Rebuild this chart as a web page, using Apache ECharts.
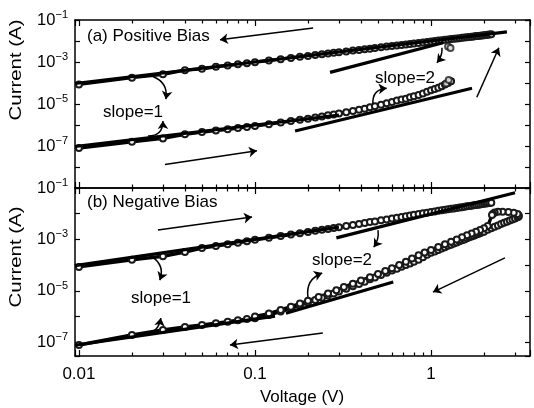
<!DOCTYPE html>
<html><head><meta charset="utf-8">
<script src="https://cdn.jsdelivr.net/npm/echarts@6/dist/echarts.min.js"></script>
<style>html,body{margin:0;padding:0;background:#fff}#c{width:534px;height:408px}</style>
</head><body><div id="c"></div>
<script>
// ---------------- data ----------------
const xTickLabels = {'-2': '0.01', '-1': '0.1', '0': '1'};
const xMinorTicks = [0.02,0.03,0.04,0.05,0.06,0.07,0.08,0.09,0.2,0.3,0.4,0.5,0.6,0.7,0.8,0.9,2,3];
const yLabelExponents = [-1,-3,-5,-7];

// Panel (a) Positive bias
const aLrsV = [0.01,0.02,0.03,0.04,0.05,0.06,0.07,0.08,0.09,0.1,0.12,0.14,0.16,0.18,0.2,0.22,0.24,0.26,0.28,0.3,0.33,0.36,0.39,0.42,0.45,0.48,0.52,0.56,0.6,0.64,0.68,0.72,0.76,0.8,0.85,0.9,0.95,1.0,1.05,1.1,1.15,1.2,1.25,1.3,1.35,1.4,1.45,1.5,1.55,1.6,1.65,1.7,1.75,1.8,1.85,1.9,1.95,2.0,2.05,2.1,2.15,2.2];
const aLrsI = [8.6e-5,1.8e-4,2.6e-4,4.1e-4,4.8e-4,5.9e-4,6.9e-4,7.8e-4,8.8e-4,9.8e-4,1.18e-3,1.37e-3,1.57e-3,1.76e-3,1.95e-3,2.15e-3,2.33e-3,2.52e-3,2.72e-3,2.9e-3,3.2e-3,3.5e-3,3.75e-3,4.05e-3,4.3e-3,4.6e-3,5.0e-3,5.4e-3,5.75e-3,6.1e-3,6.5e-3,6.9e-3,7.25e-3,7.6e-3,8.1e-3,8.6e-3,9.0e-3,9.5e-3,1.0e-2,1.05e-2,1.09e-2,1.14e-2,1.19e-2,1.23e-2,1.28e-2,1.33e-2,1.37e-2,1.42e-2,1.47e-2,1.52e-2,1.56e-2,1.61e-2,1.66e-2,1.71e-2,1.75e-2,1.8e-2,1.85e-2,1.9e-2,1.95e-2,2.0e-2,2.05e-2,2.1e-2];
const aHrsV = [0.01,0.02,0.03,0.04,0.05,0.06,0.07,0.08,0.09,0.1,0.12,0.14,0.16,0.18,0.2,0.22,0.24,0.26,0.28,0.3,0.33,0.36,0.39,0.42,0.45,0.48,0.52,0.56,0.6,0.64,0.68,0.72,0.76,0.8,0.85,0.9,0.95,1.0,1.05,1.1,1.15,1.2,1.25,1.3];
const aHrsI = [8e-8,1.6e-7,2.3e-7,3.6e-7,4.6e-7,5.4e-7,6.3e-7,7.2e-7,8.1e-7,9.0e-7,1.1e-6,1.3e-6,1.55e-6,1.8e-6,2.0e-6,2.3e-6,2.55e-6,2.9e-6,3.2e-6,3.55e-6,4.1e-6,4.7e-6,5.3e-6,6.0e-6,7.0e-6,7.9e-6,9.3e-6,1.1e-5,1.25e-5,1.45e-5,1.65e-5,1.8e-5,2.1e-5,2.35e-5,2.7e-5,3.2e-5,3.8e-5,4.5e-5,5.2e-5,6.0e-5,7.0e-5,8.5e-5,1.0e-4,1.2e-4];
const aStrayV = [1.25,1.29,1.22,1.26];
const aStrayI = [5.4e-3,4.7e-3,9.5e-5,1.4e-4];
// fitted lines (a)
const aFitLrs1V = [0.0095,2.7],  aFitLrs1I = [9.5e-5,2.7e-2];
const aFitHrs1V = [0.0095,0.3],  aFitHrs1I = [9.5e-8,3.0e-6];
const aFitLrs2V = [0.267,1.17],  aFitLrs2I = [3.2e-4,8.3e-3];
const aFitHrs2V = [0.169,1.71],  aFitHrs2I = [5.2e-7,5.6e-5];

// Panel (b) Negative bias
const bLrsV = [0.01,0.02,0.03,0.04,0.05,0.06,0.07,0.08,0.09,0.1,0.12,0.14,0.16,0.18,0.2,0.22,0.24,0.26,0.28,0.3,0.33,0.36,0.39,0.42,0.45,0.48,0.52,0.56,0.6,0.64,0.68,0.72,0.76,0.8,0.85,0.9,0.95,1.0,1.05,1.1,1.15,1.2,1.25,1.3,1.35,1.4,1.45,1.5,1.55,1.6,1.65,1.7,1.75,1.8,1.85,1.9,1.95,2.0,2.05,2.1,2.15,2.2];
const bLrsI = [8.5e-5,1.6e-4,2.2e-4,3.2e-4,4.6e-4,5.5e-4,6.5e-4,7.4e-4,8.5e-4,9.6e-4,1.15e-3,1.35e-3,1.55e-3,1.75e-3,1.95e-3,2.15e-3,2.35e-3,2.55e-3,2.8e-3,3.0e-3,3.3e-3,3.6e-3,3.95e-3,4.3e-3,4.7e-3,5.0e-3,5.5e-3,5.95e-3,6.5e-3,7.0e-3,7.5e-3,8.0e-3,8.5e-3,9.0e-3,9.7e-3,1.03e-2,1.1e-2,1.16e-2,1.22e-2,1.29e-2,1.35e-2,1.42e-2,1.48e-2,1.55e-2,1.61e-2,1.68e-2,1.74e-2,1.8e-2,1.86e-2,1.93e-2,1.99e-2,2.05e-2,2.11e-2,2.18e-2,2.24e-2,2.3e-2,2.36e-2,2.42e-2,2.47e-2,2.53e-2,2.59e-2,2.65e-2];
const bHrsV = [0.01,0.02,0.03,0.04,0.05,0.06,0.07,0.08,0.09,0.1,0.12,0.14,0.16,0.18,0.2,0.22,0.24,0.26,0.28,0.3,0.33,0.36,0.39,0.42,0.45,0.48,0.52,0.56,0.6,0.64,0.68,0.72,0.76,0.8,0.85,0.9,0.95,1.0,1.05,1.1,1.15,1.2,1.25,1.3,1.35,1.4,1.45,1.5,1.55,1.6,1.65,1.7,1.75,1.8,1.85,1.9,1.95,2.0,2.1,2.2,2.3,2.4,2.5,2.6,2.7,2.8,2.9,3.0,3.1,3.15];
const bHrsI = [7.8e-8,1.9e-7,3.0e-7,3.9e-7,4.7e-7,5.5e-7,6.3e-7,7.1e-7,7.9e-7,8.6e-7,1.15e-6,1.55e-6,2.05e-6,2.7e-6,3.5e-6,4.4e-6,5.4e-6,6.6e-6,7.9e-6,9.3e-6,1.2e-5,1.5e-5,1.85e-5,2.25e-5,2.8e-5,3.3e-5,4.1e-5,5.0e-5,6.1e-5,7.2e-5,8.6e-5,1.0e-4,1.15e-4,1.35e-4,1.6e-4,2.0e-4,2.5e-4,3.0e-4,3.4e-4,3.9e-4,4.4e-4,5.0e-4,5.6e-4,6.2e-4,6.9e-4,7.6e-4,8.4e-4,9.2e-4,1.0e-3,1.1e-3,1.2e-3,1.3e-3,1.4e-3,1.5e-3,1.62e-3,1.75e-3,1.88e-3,2.0e-3,2.35e-3,2.7e-3,3.1e-3,3.5e-3,3.95e-3,4.4e-3,4.9e-3,5.4e-3,5.9e-3,6.5e-3,7.2e-3,7.8e-3];
const bRetV = [3.15,3.1,2.95,2.75,2.55,2.4,2.3,2.25,2.22,2.1,2.0,1.9,1.8,1.7,1.6,1.5,1.4,1.3,1.2,1.1,1.0,0.92,0.85,0.78,0.72,0.66,0.6,0.55,0.5,0.45,0.4,0.36,0.32,0.29,0.26,0.23,0.2,0.18,0.16,0.14,0.12,0.1];
const bRetI = [8.5e-3,9.8e-3,1.1e-2,1.17e-2,1.2e-2,1.18e-2,1.12e-2,1.0e-2,8.8e-3,3.3e-3,2.7e-3,2.3e-3,2.0e-3,1.7e-3,1.45e-3,1.2e-3,1.0e-3,8.1e-4,6.5e-4,5.1e-4,3.9e-4,3.1e-4,2.4e-4,1.8e-4,1.35e-4,1.0e-4,7.6e-5,5.9e-5,4.5e-5,3.4e-5,2.5e-5,1.9e-5,1.4e-5,1.05e-5,7.8e-6,5.7e-6,4.1e-6,3.2e-6,2.4e-6,1.8e-6,1.3e-6,1.0e-6];
// fitted lines (b)
const bFitLrs1V = [0.0095,0.3],  bFitLrs1I = [9.5e-5,3.0e-3];
const bFitHrs1V = [0.0095,0.13], bFitHrs1I = [7.6e-8,1.04e-6];
const bFitLrs2V = [0.29,3.0],    bFitLrs2I = [1.15e-3,6.5e-2];
const bFitHrs2V = [0.15,0.61],   bFitHrs2I = [1.34e-6,2.2e-5];

// arrows [x1,y1,x2,y2,curveness] in data units (head at the second point)
const aArrows = [[0.214,4.2e-2,0.0632,1.14e-2,0],[0.0308,1.3e-8,0.1026,5.9e-8,0],[1.82,2.1e-5,2.43,4.8e-3,0],
  [0.0263,2.05e-4,0.0312,1.7e-5,0.4],[0.0247,3e-7,0.030,1.55e-6,-0.5],[1.155,4.8e-3,1.08,9.3e-4,0.2],[0.468,9.8e-6,0.56,5.6e-5,0.5]];
const bArrows = [[0.0281,2.3e-3,0.0962,7.4e-3,0],[2.63,1.9e-4,1.026,8.9e-6,0],[0.243,2.3e-7,0.0721,7.8e-8,0],
  [0.026,2.1e-4,0.0288,2.6e-5,0.4],[0.0222,2.3e-7,0.0292,8.7e-7,-0.5],[0.5,2.3e-3,0.473,5e-4,0.2],[0.2,5.7e-6,0.241,4.9e-5,0.4]];

// ---------------- chart ----------------
const FONT = 'Liberation Sans, Arial, Helvetica, sans-serif';
const XMIN = 0.0095, XMAX = 3.65;
const zip = (v, i) => v.map((x, k) => [x, i[k]]);

function xLog(gridIndex, pos, labels) {
  return {
    type: 'log', gridIndex, position: pos, min: XMIN, max: XMAX, logBase: 10,
    axisLine: {show: true, onZero: false, lineStyle: {color: '#000', width: 1.5}},
    axisTick: {show: true, inside: true, length: 6, lineStyle: {color: '#000', width: 1.2}},
    splitLine: {show: false}, minorTick: {show: false},
    axisLabel: {show: labels, margin: 10, color: '#000', fontSize: 17, fontFamily: FONT,
      formatter: v => { const e = Math.log10(v); const r = Math.round(e);
        return Math.abs(e - r) < 1e-6 && xTickLabels[String(r)] ? xTickLabels[String(r)] : ''; }}
  };
}
function xMinor(gridIndex, pos) {
  return {
    type: 'value', gridIndex, position: pos, min: Math.log10(XMIN), max: Math.log10(XMAX),
    axisLine: {show: false, onZero: false}, splitLine: {show: false}, axisLabel: {show: false},
    axisTick: {show: true, inside: true, length: 3.5, customValues: xMinorTicks.map(Math.log10),
      lineStyle: {color: '#000', width: 1.2}}
  };
}
function yLog(gridIndex, pos, min, labels) {
  return {
    type: 'log', gridIndex, position: pos, min: min, max: 1e-1, logBase: 10,
    axisLine: {show: true, onZero: false, lineStyle: {color: '#000', width: 1.5}},
    axisTick: {show: true, inside: true, length: 5, lineStyle: {color: '#000', width: 1.2}},
    splitLine: {show: false},
    axisLabel: {show: labels, margin: 7, color: '#000', fontFamily: FONT,
      formatter: v => { const e = Math.log10(v); const r = Math.round(e);
        if (Math.abs(e - r) > 1e-6 || yLabelExponents.indexOf(r) < 0) return '';
        return '{b|10}{s|' + String(r).replace('-', '\u2212') + '}'; },
      rich: {b: {fontSize: 16.5, fontFamily: FONT, color: '#000', lineHeight: 18},
             s: {fontSize: 11, fontFamily: FONT, color: '#000', lineHeight: 12, padding: [0, 0, 10, 0]}}}
  };
}

function dataSeries(name, xi, yi, v, i) {
  return {name, type: 'line', xAxisIndex: xi, yAxisIndex: yi, data: zip(v, i),
    symbol: 'emptyCircle', symbolSize: 6, showSymbol: true,
    itemStyle: {color: '#1a1a1a', borderWidth: 1.1},
    lineStyle: {color: '#000', width: 3.4}, z: 3, silent: true};
}
function fitSeries(name, xi, yi, v, i) {
  return {name, type: 'line', xAxisIndex: xi, yAxisIndex: yi, data: zip(v, i),
    symbol: 'none', lineStyle: {color: '#000', width: 3.2}, z: 4, silent: true};
}
function arrowSeries(name, xi, yi, arrows) {
  return {name, type: 'lines', coordinateSystem: 'cartesian2d', xAxisIndex: xi, yAxisIndex: yi,
    symbol: ['none', 'arrow'], symbolSize: 8, silent: true, z: 5,
    lineStyle: {color: '#000', width: 1.5, opacity: 1},
    data: arrows.map(a => ({coords: [[a[0], a[1]], [a[2], a[3]]], lineStyle: {curveness: a[4]}}))};
}
function txt(x, y, s, align, extra) {
  return Object.assign({type: 'text', x, y, silent: true,
    style: {text: s, fontSize: 17, fontFamily: FONT, fill: '#000', align: align, verticalAlign: 'middle'}}, extra || {});
}

const chart = echarts.init(document.getElementById('c'), null, {renderer: 'canvas'});
chart.setOption({
  animation: false,
  backgroundColor: '#fff',
  grid: [
    {left: 75, top: 20, width: 455, height: 168, containLabel: false},
    {left: 75, top: 188, width: 455, height: 168, containLabel: false}
  ],
  xAxis: [
    xLog(0, 'bottom', false), xLog(0, 'top', false), xMinor(0, 'bottom'), xMinor(0, 'top'),
    xLog(1, 'bottom', true), xLog(1, 'top', false), xMinor(1, 'bottom'), xMinor(1, 'top')
  ],
  yAxis: [
    yLog(0, 'left', 1e-9, true), yLog(0, 'right', 1e-9, false),
    yLog(1, 'left', 2.9e-8, true), yLog(1, 'right', 2.9e-8, false)
  ],
  series: [
    dataSeries('aLRS', 0, 0, aLrsV, aLrsI),
    dataSeries('aHRS', 0, 0, aHrsV, aHrsI),
    Object.assign(dataSeries('aStray', 0, 0, aStrayV, aStrayI), {type: 'scatter'}),
    fitSeries('aFitLrs1', 0, 0, aFitLrs1V, aFitLrs1I),
    fitSeries('aFitHrs1', 0, 0, aFitHrs1V, aFitHrs1I),
    fitSeries('aFitLrs2', 0, 0, aFitLrs2V, aFitLrs2I),
    fitSeries('aFitHrs2', 0, 0, aFitHrs2V, aFitHrs2I),
    arrowSeries('aArrows', 0, 0, aArrows),
    dataSeries('bLRS', 4, 2, bLrsV, bLrsI),
    dataSeries('bHRS', 4, 2, bHrsV, bHrsI),
    dataSeries('bRet', 4, 2, bRetV, bRetI),
    fitSeries('bFitLrs1', 4, 2, bFitLrs1V, bFitLrs1I),
    fitSeries('bFitHrs1', 4, 2, bFitHrs1V, bFitHrs1I),
    fitSeries('bFitLrs2', 4, 2, bFitLrs2V, bFitLrs2I),
    fitSeries('bFitHrs2', 4, 2, bFitHrs2V, bFitHrs2I),
    arrowSeries('bArrows', 4, 2, bArrows)
  ],
  graphic: [
    txt(87, 36, '(a) Positive Bias', 'left'),
    txt(133, 112, 'slope=1', 'center'),
    txt(405, 78, 'slope=2', 'center'),
    txt(87, 202, '(b) Negative Bias', 'left'),
    txt(161, 298, 'slope=1', 'center'),
    txt(342, 260, 'slope=2', 'center'),
    txt(16, 70, 'Current (A)', 'center', {rotation: Math.PI / 2, scaleX: 1.2}),
    txt(16, 257, 'Current (A)', 'center', {rotation: Math.PI / 2, scaleX: 1.2}),
    txt(302, 397, 'Voltage (V)', 'center')
  ]
});
</script></body></html>
